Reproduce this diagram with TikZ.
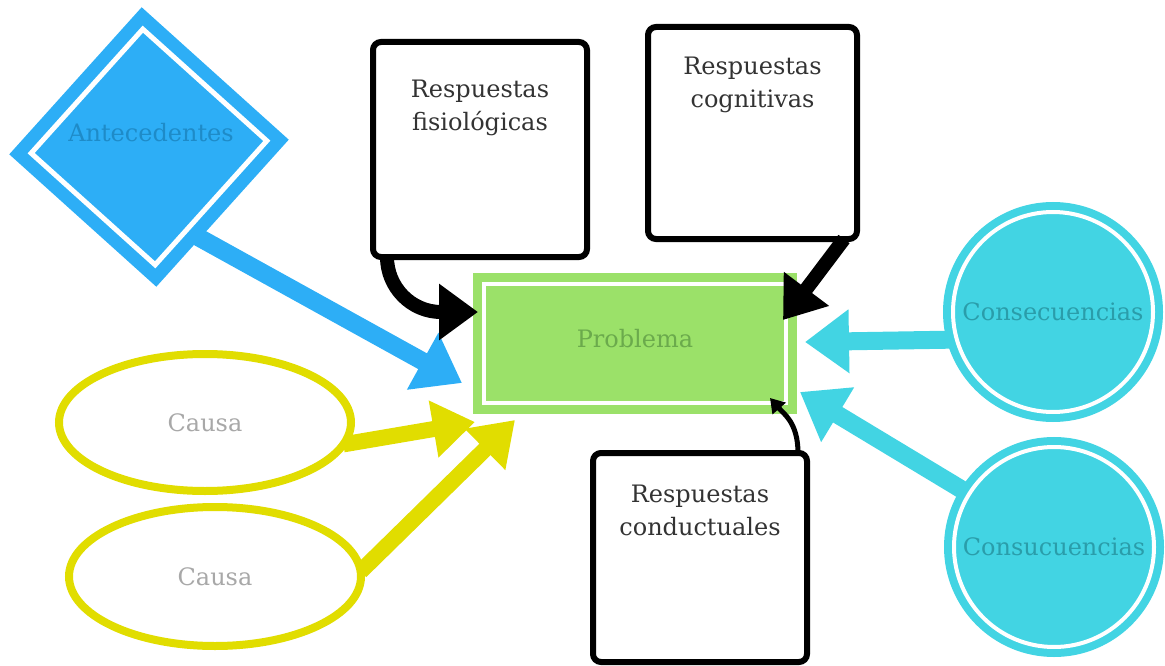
\documentclass[tikz,border=0pt]{standalone}
\usepackage{fontspec}
\setmainfont{DejaVu Serif}
\usepackage{tikz}
\usetikzlibrary{calc,positioning,arrows.meta,shapes.geometric}
\pgfdeclarelayer{background}
\pgfsetlayers{background,main}
\definecolor{antblue}{HTML}{2DAEF6}
\definecolor{antbluetxt}{HTML}{1E8BC8}
\definecolor{probgreen}{HTML}{9BE169}
\definecolor{probgreentxt}{HTML}{6BAA4C}
\definecolor{causeyellow}{HTML}{E1DD00}
\definecolor{causegray}{HTML}{A8A8A8}
\definecolor{conscyan}{HTML}{42D4E3}
\definecolor{conscyantxt}{HTML}{2A9DAA}
\definecolor{textgray}{HTML}{333333}
\tikzset{
    every node/.style={font={\fontsize{24pt}{33pt}\selectfont}},
    respbox/.style={
        rectangle,
        rounded corners=8pt,
        draw=black, line width=6pt,
        fill=white,
        inner sep=0pt, outer sep=0pt
    },
    resptext/.style={anchor=north, align=center, inner sep=0pt, text=textgray},
    causebox/.style={
        ellipse,
        draw=causeyellow, line width=8pt,
        fill=white,
        minimum width=292pt,
        inner sep=0pt, outer sep=0pt,
        text=causegray
    },
    consbox/.style={
        circle,
        draw=conscyan, double=white, double distance=4pt, line width=8pt,
        fill=conscyan,
        minimum size=200pt,
        inner sep=0pt, outer sep=0pt,
        text=conscyantxt
    },
    bluearrow/.style={draw=antblue, line width=18pt, -{Triangle[length=45pt,width=62pt]}},
    yellowarrow/.style={draw=causeyellow, line width=16pt, -{Triangle[length=42pt,width=55pt]}},
    cyanarrow/.style={draw=conscyan, line width=18pt, -{Triangle[length=44pt,width=61pt]}},
    blackarrow/.style={draw=black, line width=14pt, -{Triangle[length=39pt,width=54pt]}},
    smallarrow/.style={draw=black, line width=5pt, -{Triangle[length=14pt,width=17pt]}},
}
\begin{document}
\begin{tikzpicture}[x=1pt, y=-1pt,
    antbox/.style={regular polygon, regular polygon sides=4, shape border rotate=48,
        minimum size=236pt, draw=antblue, double=white, double distance=5pt,
        line width=13pt, fill=antblue, inner sep=0pt, outer sep=0pt},
    probbox/.style={rectangle, draw=probgreen, double=white, double distance=4pt,
        line width=9pt, fill=probgreen, minimum width=302pt, minimum height=119pt,
        text depth=11pt, inner sep=0pt, outer sep=0pt, text=probgreentxt},
]
\useasboundingbox (0,0) rectangle (1165,666);
\node[antbox, label={[text=antbluetxt, xshift=2pt, yshift=14pt]center:Antecedentes}] (ant) at (149,147) {};
\node[probbox] (prob) at (635,343.5) {Problema};
\node[respbox, minimum width=214pt, minimum height=215pt,
    label={[resptext, yshift=-38pt]north:Respuestas\\fisiológicas}] (fisio) at (480,149.5) {};
\node[respbox, minimum width=209pt, minimum height=212pt,
    label={[resptext, yshift=-30pt]north:Respuestas\\cognitivas}] (cogn) at (752.5,133) {};
\node[respbox, minimum width=214pt, minimum height=209pt,
    label={[resptext, yshift=-32pt]north:Respuestas\\conductuales}] (cond) at (700,557.5) {};
\node[causebox, minimum height=137pt] (cause1) at (205,422.5) {Causa};
\node[causebox, minimum height=139pt] (cause2) at (215,576.5) {Causa};
\node[consbox] (cons1) at (1053,312) {Consecuencias};
\node[consbox] (cons2) at (1054,547) {Consucuencias};
\begin{pgfonlayer}{background}
\draw[bluearrow] (ant.-66) -- ($(prob.south west)+(-22,-20)$);
\draw[yellowarrow] (cause1.-9) -- ($(prob.south west)+(-9,19)$);
\draw[yellowarrow] (cause2.2) -- ($(prob.south west)+(31,17)$);
\draw[cyanarrow] (cons1.196) -- ($(prob.east)+(19,-1.5)$);
\draw[cyanarrow] (cons2.148) -- ($(prob.south east)+(14,-11)$);
\end{pgfonlayer}
\draw[blackarrow] ($(fisio.south)+(-93,0)$) .. controls +(0,30) and +(-30,0) .. ($(fisio.south)+(-39,55)$) -- ($(prob.west)+(-6,-31.5)$);
\draw[blackarrow] ($(cogn.south)+(91.5,0)$) -- ($(prob.north east)+(-3,36)$);
\draw[smallarrow] ($(cond.north)+(98,0)$) .. controls +(0,-30) and +(14,16) .. ($(prob.south east)+(-16,-5)$);
\end{tikzpicture}
\end{document}
